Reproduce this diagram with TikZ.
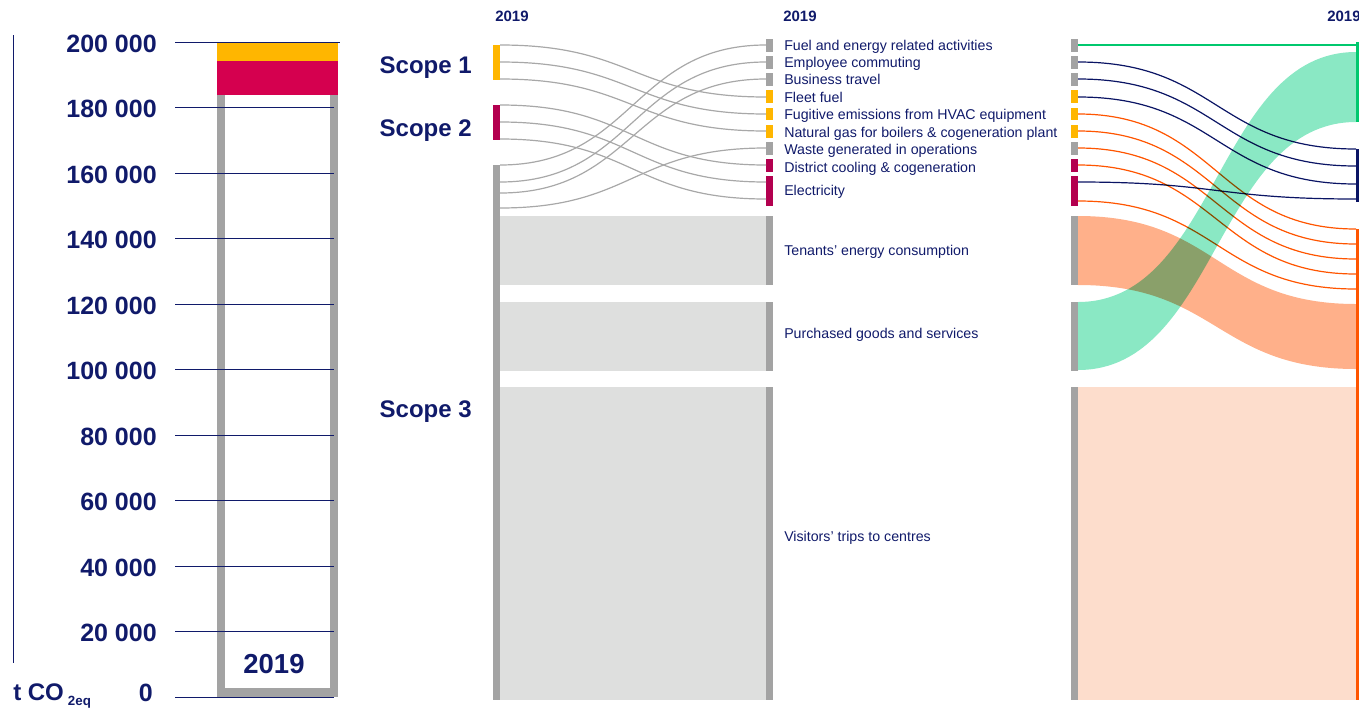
\documentclass[tikz,border=0pt]{standalone}
\usepackage{fontspec}
\setmainfont{Liberation Sans}
\definecolor{navy}{HTML}{101A6A}
\definecolor{ynode}{HTML}{FFB600}
\definecolor{crim}{HTML}{D5004F}
\definecolor{mag}{HTML}{B3004F}
\definecolor{gnode}{HTML}{A3A3A3}
\definecolor{lgray}{HTML}{DEDFDE}
\definecolor{gline}{HTML}{A8A8A8}
\definecolor{grn}{HTML}{00C86E}
\definecolor{lgrn}{HTML}{8AE8C4}
\definecolor{orn}{HTML}{FF5500}
\definecolor{salm}{HTML}{FFB08A}
\definecolor{lsalm}{HTML}{FDDDCC}
\definecolor{nline}{HTML}{0A1464}
\newcommand\skflow[4]{\draw[#1] (#2) .. controls +(#4,0) and +(-#4,0) .. (#3);}
\begin{document}
\begin{tikzpicture}[x=0.75pt,y=-0.75pt,
  lbl/.style={anchor=base west,inner sep=0,text=navy,font=\fontsize{10.65}{12}\selectfont},
  ticklbl/.style={anchor=base east,inner sep=0,text=navy,font=\bfseries\fontsize{18.75}{20}\selectfont},
  scopelbl/.style={anchor=base east,inner sep=0,text=navy,font=\bfseries\fontsize{18}{20}\selectfont},
  yearlbl/.style={anchor=base west,inner sep=0,text=navy,font=\bfseries\fontsize{11.25}{12}\selectfont},
  gridline/.style={draw=navy,line width=0.75pt},
  gflow/.style={draw=gline,line width=0.9pt},
  nflow/.style={draw=nline,line width=0.9pt},
  oflow/.style={draw=orn,line width=0.9pt},
  grflow/.style={draw=grn,line width=0.9pt}]
\useasboundingbox (0,0) rectangle (1359,711);

% ---------------- left bar chart ----------------
\draw[navy,line width=0.75pt] (13,35) -- (13,663);
\fill[ynode] (217,42) rectangle (338,61);
\fill[crim] (217,61) rectangle (338,95);
\fill[gnode] (217,95) rectangle (225,697);
\fill[gnode] (330,95) rectangle (338,697);
\fill[gnode] (217,688) rectangle (338,697);
\foreach \v [count=\i from 0] in {0,20 000,40 000,60 000,80 000,100 000,120 000,140 000,160 000,180 000}{
  \draw[gridline] (175,{697-65.5*\i}) -- (334,{697-65.5*\i});
}
\draw[gridline] (175,42) -- (340,42);
\foreach \v [count=\i from 1] in {20 000,40 000,60 000,80 000,100 000,120 000,140 000,160 000,180 000,200 000}{
  \node[ticklbl] (tick\i) at (157,{697-65.5*\i+10}) {\v};
}
\node[ticklbl] (tick0) at (153,701) {0};
\node[anchor=base west,inner sep=0,text=navy,font=\bfseries\fontsize{18}{20}\selectfont] (unit) at (13,700)
  {t CO\hspace{3pt}\raisebox{-4pt}{\fontsize{10}{10}\selectfont 2eq}};
\node[anchor=base,inner sep=0,text=navy,font=\bfseries\fontsize{20.6}{22}\selectfont] (baryear) at (274,673) {2019};

% ---------------- headers ----------------
\node[yearlbl] (y1) at (495,21) {2019};
\node[yearlbl] (y2) at (783,21) {2019};
\node[yearlbl] (y3) at (1327,21) {2019};

% ---------------- scope labels ----------------
\node[scopelbl] (sc1) at (472,73) {Scope 1};
\node[scopelbl] (sc2) at (472,136) {Scope 2};
\node[scopelbl] (sc3) at (472,417) {Scope 3};

% ---------------- left nodes ----------------
\fill[ynode] (493,45) rectangle (500,80);
\fill[mag] (493,105) rectangle (500,140);
\fill[gnode] (493,165) rectangle (500,700);

% light gray bands
\fill[lgray] (500,216) rectangle (766,285);
\fill[lgray] (500,302) rectangle (766,371);
\fill[lgray] (500,387) rectangle (766,700);

% middle and third column nodes
\foreach \x in {766,1071}{
  \fill[gnode] (\x,39) rectangle ++(7,13);
  \fill[gnode] (\x,56) rectangle ++(7,12.5);
  \fill[gnode] (\x,73) rectangle ++(7,13);
  \fill[ynode] (\x,90) rectangle ++(7,13);
  \fill[ynode] (\x,107.5) rectangle ++(7,12.5);
  \fill[ynode] (\x,125) rectangle ++(7,12.5);
  \fill[gnode] (\x,142) rectangle ++(7,13);
  \fill[mag] (\x,159) rectangle ++(7,13);
  \fill[mag] (\x,176) rectangle ++(7,30);
  \fill[gnode] (\x,216) rectangle ++(7,69);
  \fill[gnode] (\x,302) rectangle ++(7,69);
  \fill[gnode] (\x,387) rectangle ++(7,313);
}

% ports
\coordinate (L1a) at (500,45);  \coordinate (L1b) at (500,62);  \coordinate (L1c) at (500,79);
\coordinate (L2a) at (500,105); \coordinate (L2b) at (500,122); \coordinate (L2c) at (500,139);
\coordinate (L3a) at (500,165); \coordinate (L3b) at (500,182); \coordinate (L3c) at (500,193); \coordinate (L3d) at (500,208);
\coordinate (Mfuel) at (766,45); \coordinate (Memp) at (766,62); \coordinate (Mbus) at (766,79);
\coordinate (Mfleet) at (766,97); \coordinate (Mfug) at (766,114); \coordinate (Mgas) at (766,131);
\coordinate (Mwaste) at (766,148); \coordinate (Mdist) at (766,165); \coordinate (MelA) at (766,182); \coordinate (MelB) at (766,199);
\coordinate (Rfuel) at (1078,45); \coordinate (Remp) at (1078,62); \coordinate (Rbus) at (1078,79);
\coordinate (Rfleet) at (1078,97); \coordinate (Rfug) at (1078,114); \coordinate (Rgas) at (1078,131);
\coordinate (Rwaste) at (1078,148); \coordinate (Rdist) at (1078,165); \coordinate (RelA) at (1078,182); \coordinate (RelB) at (1078,201);
\coordinate (Egr) at (1356,45);
\coordinate (En1) at (1356,149); \coordinate (En2) at (1356,166); \coordinate (En3) at (1356,184); \coordinate (En4) at (1356,199);
\coordinate (Eo1) at (1356,229); \coordinate (Eo2) at (1356,244); \coordinate (Eo3) at (1356,259); \coordinate (Eo4) at (1356,274); \coordinate (Eo5) at (1356,289);
\coordinate (RtenT) at (1078,216); \coordinate (RtenB) at (1078,285);
\coordinate (EtenT) at (1356,304); \coordinate (EtenB) at (1356,369);
\coordinate (RpurT) at (1078,302); \coordinate (RpurB) at (1078,370);
\coordinate (EgrT) at (1356,52); \coordinate (EgrB) at (1356,122);

% middle flows
\skflow{gflow}{L1a}{Mfleet}{133}
\skflow{gflow}{L1b}{Mfug}{133}
\skflow{gflow}{L1c}{Mgas}{133}
\skflow{gflow}{L2a}{Mdist}{133}
\skflow{gflow}{L2b}{MelA}{133}
\skflow{gflow}{L2c}{MelB}{133}
\skflow{gflow}{L3a}{Mfuel}{133}
\skflow{gflow}{L3b}{Memp}{133}
\skflow{gflow}{L3c}{Mbus}{133}
\skflow{gflow}{L3d}{Mwaste}{133}

% middle labels
\node[lbl] (lfuel) at (784,50) {Fuel and energy related activities};
\node[lbl] (lemp) at (784,67) {Employee commuting};
\node[lbl] (lbus) at (784,84) {Business travel};
\node[lbl] (lfleet) at (784,102) {Fleet fuel};
\node[lbl] (lfug) at (784,119) {Fugitive emissions from HVAC equipment};
\node[lbl] (lgas) at (784,137) {Natural gas for boilers \& cogeneration plant};
\node[lbl] (lwaste) at (784,154) {Waste generated in operations};
\node[lbl] (ldist) at (784,172) {District cooling \& cogeneration};
\node[lbl] (lel) at (784,195) {Electricity};
\node[lbl] (lten) at (784,255) {Tenants’ energy consumption};
\node[lbl] (lpur) at (784,338) {Purchased goods and services};
\node[lbl] (lvis) at (784,541) {Visitors’ trips to centres};

% ---------------- right side ----------------
\fill[lsalm] (1078,387) rectangle (1356,700);
\begin{scope}[blend mode=multiply]
\fill[salm] (RtenT) .. controls +(139,0) and +(-139,0) .. (EtenT) -- (EtenB) .. controls +(-139,0) and +(139,0) .. (RtenB) -- cycle;
\fill[lgrn] (RpurT) .. controls +(139,0) and +(-139,0) .. (EgrT) -- (EgrB) .. controls +(-139,0) and +(139,0) .. (RpurB) -- cycle;
\draw[grflow] (Rfuel) -- (Egr);
\skflow{nflow}{Remp}{En1}{139}
\skflow{nflow}{Rbus}{En2}{139}
\skflow{nflow}{Rfleet}{En3}{139}
\skflow{nflow}{RelA}{En4}{139}
\skflow{oflow}{Rfug}{Eo1}{139}
\skflow{oflow}{Rgas}{Eo2}{139}
\skflow{oflow}{Rwaste}{Eo3}{139}
\skflow{oflow}{Rdist}{Eo4}{139}
\skflow{oflow}{RelB}{Eo5}{139}
\end{scope}
\fill[grn] (1356,42) rectangle (1359,122);
\fill[nline] (1356,149) rectangle (1359,202);
\fill[orn] (1356,229) rectangle (1359,700);
\end{tikzpicture}
\end{document}
